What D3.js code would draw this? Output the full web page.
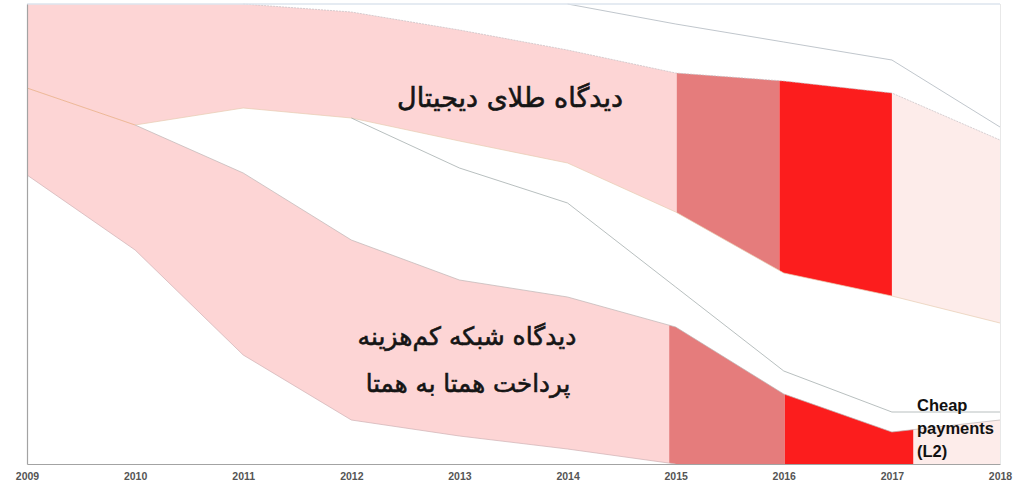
<!DOCTYPE html>
<html><head><meta charset="utf-8">
<script src="https://cdn.jsdelivr.net/npm/d3@7"></script>
<style>body{margin:0;background:#fff;} svg{display:block;}</style>
</head><body><svg id="c" width="1024" height="490"></svg>
<script>
// ---- data ----
const years = [2009,2010,2011,2012,2013,2014,2015,2016,2017,2018];
const tickLabels = ["2009","2010","2011","2012","2013","2014","2015","2016","2017","2018"];
const goldTop    = [460,460,460,452,434,414,391,383,371,324];
const goldBottom = [376,339,356,346,323,301,252,191,168,141];
const cheapTop    = [376,339,291,224,184,167,137,70,32,44];
const cheapBottom = [289,214,109,44,28,15,0,0,0,0];
const dividerYears  = [2012,2013,2014,2015,2016,2017,2018];
const dividerValues = [346,296,261,177,93,52,52];
const outerYears  = [2014,2015,2016,2017,2018];
const outerValues = [460,440,422,404,337];
const goldSplits  = [2015.01, 2015.96, 2017.0];
const cheapSplits = [2014.94, 2016.01, 2017.2];
const phaseColors = ["#fdd5d5","#e57c7c","#fc1d1d","#fdecea"];
const goldLabel  = "دیدگاه طلای دیجیتال";
const cheapLabel = ["دیدگاه شبکه کم‌هزینه","پرداخت همتا به همتا"];
const l2Label = ["Cheap","payments","(L2)"];

// ---- scales ----
const svg = d3.select("#c");
const x = d3.scaleLinear().domain([2009,2018]).range([27,1000]);
const y = d3.scaleLinear().domain([0,460]).range([464,4]);

const defs = svg.append("defs");
function drawBand(name, top, bottom, splits){
  const data = years.map((yr,i)=>({yr, t:top[i], b:bottom[i]}));
  const area = d3.area().x(d=>x(d.yr)).y0(d=>y(d.b)).y1(d=>y(d.t));
  const bounds = [2009, ...splits, 2018];
  for(let k=0;k<bounds.length-1;k++){
    const id = name+"clip"+k;
    defs.append("clipPath").attr("id",id).append("rect")
      .attr("x",x(bounds[k])).attr("y",0)
      .attr("width",x(bounds[k+1])-x(bounds[k])).attr("height",490);
    svg.append("path").datum(data).attr("d",area)
      .attr("fill",phaseColors[k]).attr("clip-path",`url(#${id})`);
  }
}
drawBand("gold", goldTop, goldBottom, goldSplits);
drawBand("cheap", cheapTop, cheapBottom, cheapSplits);

const line = d3.line().x(d=>x(d[0])).y(d=>y(d[1]));
const zip = (a,b)=>a.map((v,i)=>[v,b[i]]);
// edges
svg.append("path").attr("d",line(zip(years,goldTop).slice(2))).attr("fill","none")
  .attr("stroke","#c4bec3").attr("stroke-width",0.7).attr("stroke-dasharray","2,1");
svg.append("path").attr("d",line(zip(years,goldBottom).slice(1))).attr("fill","none")
  .attr("stroke","#e6cbb0").attr("stroke-width",0.7);
svg.append("path").attr("d",line(zip(years,cheapTop).slice(0,2))).attr("fill","none")
  .attr("stroke","#e9ad84").attr("stroke-width",0.8);
svg.append("path").attr("d",line(zip(years,cheapTop).slice(1))).attr("fill","none")
  .attr("stroke","#bdb4b4").attr("stroke-width",0.7);
svg.append("path").attr("d",line(zip(years,cheapBottom).slice(0,7))).attr("fill","none")
  .attr("stroke","#cfb0b3").attr("stroke-width",0.7);
svg.append("path").attr("d",line(zip(dividerYears,dividerValues))).attr("fill","none")
  .attr("stroke","#a6aeae").attr("stroke-width",0.8);
svg.append("path").attr("d",line(zip(outerYears,outerValues))).attr("fill","none")
  .attr("stroke","#b0b7bf").attr("stroke-width",0.8);

// frame
svg.append("line").attr("x1",x(2009)).attr("x2",x(2018)).attr("y1",y(460)).attr("y2",y(460))
  .attr("stroke","#dde5ee").attr("stroke-width",1.5);
svg.append("line").attr("x1",x(2018)+0.5).attr("x2",x(2018)+0.5).attr("y1",y(460)).attr("y2",y(0))
  .attr("stroke","#e8e8e8").attr("stroke-width",1);

// axes
const xAxis = svg.append("g").attr("transform",`translate(0,${y(0)})`)
  .call(d3.axisBottom(x).tickValues(years).tickFormat((d,i)=>tickLabels[i]).tickSize(0).tickPadding(9));
xAxis.select(".domain").attr("stroke","#a3a3a3").attr("stroke-width",1.2);
xAxis.selectAll("text").attr("font-family","Liberation Sans, Arial, sans-serif")
  .attr("font-size",10.5).attr("font-weight","bold").attr("fill","#555");
const yAxis = svg.append("g").attr("transform",`translate(${x(2009)},0)`)
  .call(d3.axisLeft(y).tickValues([]).tickSizeOuter(0));
yAxis.select(".domain").attr("stroke","#a3a3a3").attr("stroke-width",1.2);

// labels
const fa = (sel,size)=>sel.attr("text-anchor","middle").attr("font-family","DejaVu Sans, sans-serif")
  .attr("font-size",size).attr("fill","#151515").attr("stroke","#151515").attr("stroke-width",0.6);
svg.append("text").attr("x",510).attr("y",107).call(fa,27).text(goldLabel);
svg.append("text").attr("x",467).attr("y",345).call(fa,25).text(cheapLabel[0]);
svg.append("text").attr("x",468).attr("y",392).call(fa,24.5).text(cheapLabel[1]);
svg.append("g").selectAll("text").data(l2Label).join("text")
  .attr("x",917).attr("y",(d,i)=>411+i*23)
  .attr("font-family","Liberation Sans, Arial, sans-serif").attr("font-size",16.5)
  .attr("font-weight","bold").attr("fill","#111").text(d=>d);
</script></body></html>
